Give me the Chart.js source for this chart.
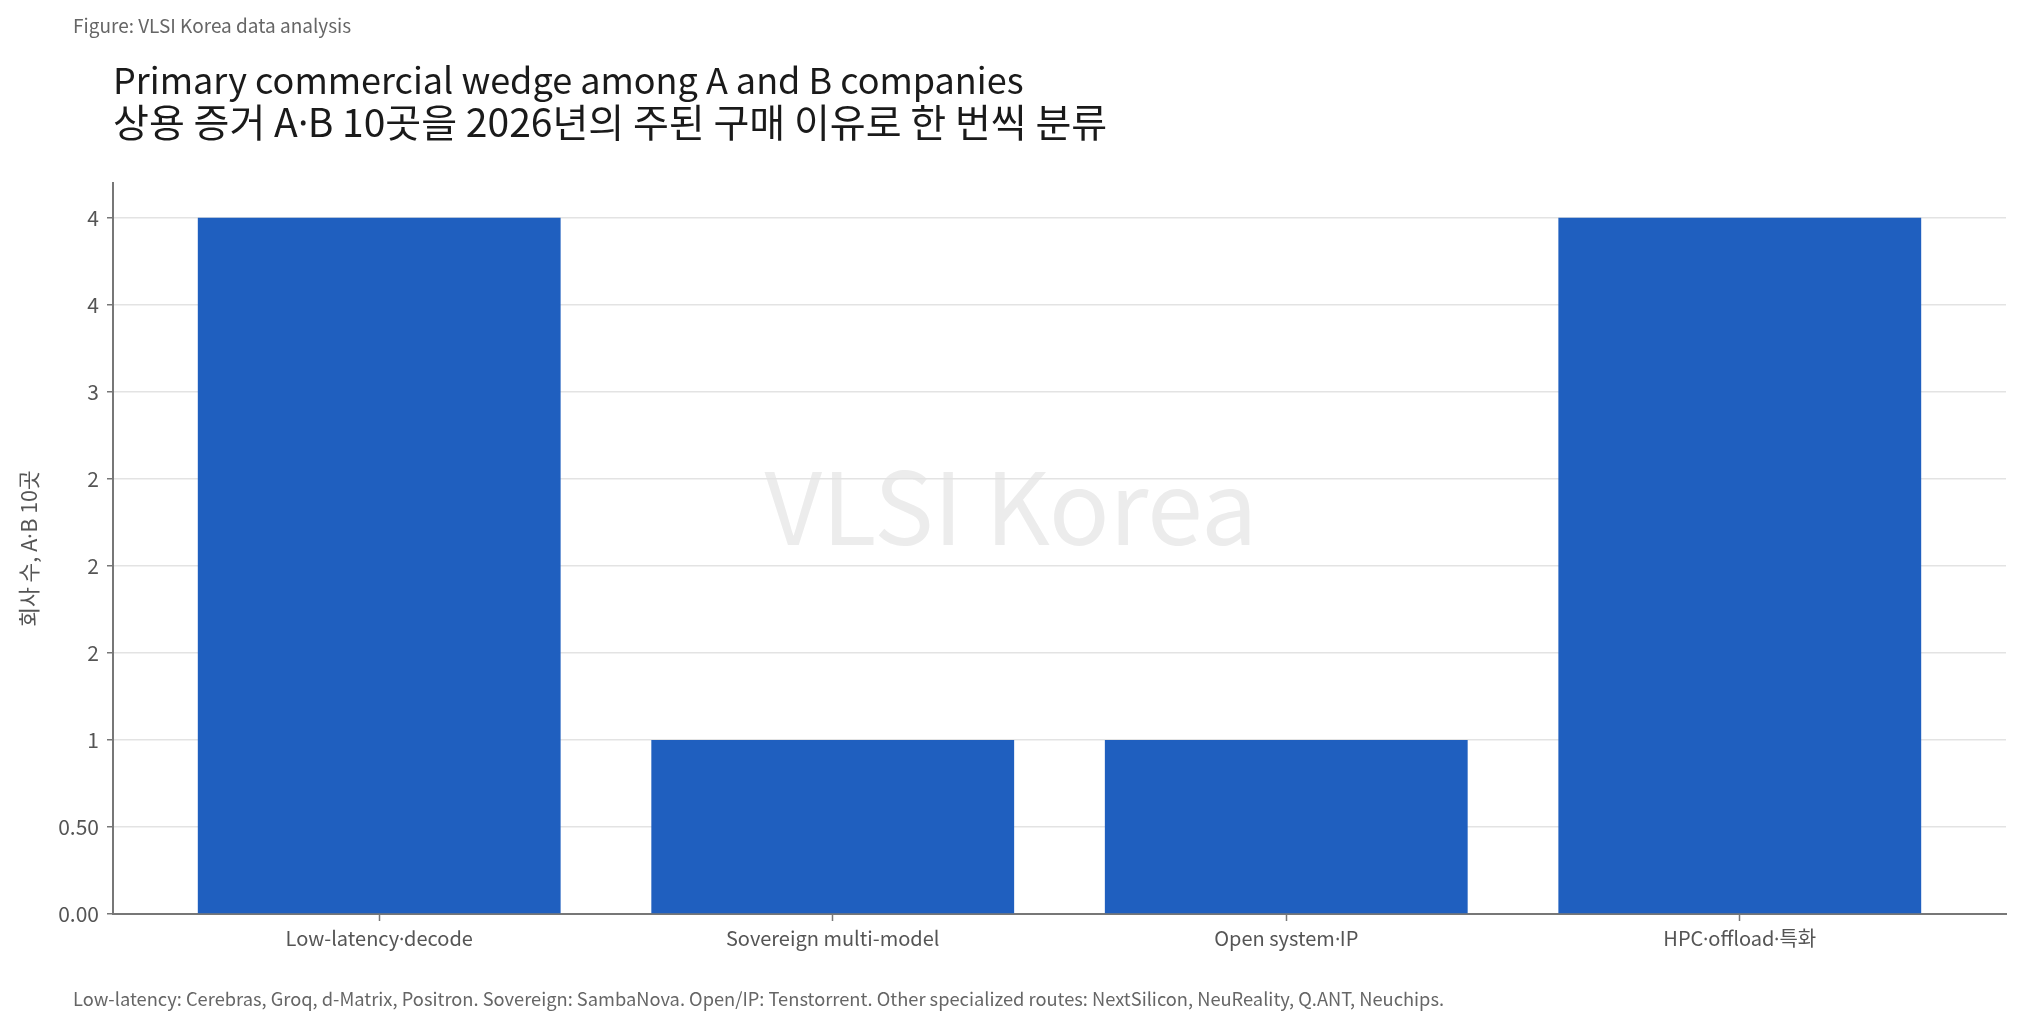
<!DOCTYPE html>
<html>
<head>
<meta charset="utf-8">
<script src="https://cdn.jsdelivr.net/npm/chart.js@4.4.1/dist/chart.umd.min.js"></script>
<style>
  @font-face { font-family: 'KDot'; src: local('Noto Sans'), local('NotoSans-Regular'), local('DejaVu Sans'); unicode-range: U+00B7; }
  html, body { margin: 0; padding: 0; background: #fff; }
  body { width: 2022px; height: 1025px; position: relative; overflow: hidden; font-family: 'KDot', 'Noto Sans CJK KR', 'Noto Sans', sans-serif; }
  #wrap { position: absolute; left: 0; top: 0; width: 2022px; height: 1025px; }
  .fig { position: absolute; left: 73px; top: 14px; font-size: 19px; line-height: 22px; color: #666; }
  .title { position: absolute; left: 113px; top: 57px; font-size: 36px; line-height: 42px; color: #1a1a1a; white-space: nowrap; }
  .title .ko { font-size: 39px; }
  .note { position: absolute; left: 73px; top: 987px; font-size: 18.3px; line-height: 22px; color: #666; white-space: nowrap; }
</style>
</head>
<body>
<div id="wrap"><canvas id="myChart" width="2022" height="1025"></canvas></div>
<div class="fig">Figure: VLSI Korea data analysis</div>
<div class="title">Primary commercial wedge among A and B companies<br><span class="ko">상용 증거 A·B 10곳을 2026년의 주된 구매 이유로 한 번씩 분류</span></div>
<div class="note">Low-latency: Cerebras, Groq, d-Matrix, Positron. Sovereign: SambaNova. Open/IP: Tenstorrent. Other specialized routes: NextSilicon, NeuReality, Q.ANT, Neuchips.</div>
<script>
const categories = ['Low-latency·decode', 'Sovereign multi-model', 'Open system·IP', 'HPC·offload·특화'];
const companyCounts = [4, 1, 1, 4];
const yTickValues = [0, 0.5, 1, 1.5, 2, 2.5, 3, 3.5, 4];
const yTickLabels = ['0.00', '0.50', '1', '2', '2', '2', '3', '4', '4'];
const yTitle = '회사 수, A·B 10곳';
const watermark = 'VLSI Korea';

const FONT = "KDot, 'Noto Sans CJK KR', 'Noto Sans', sans-serif";
const canvas = document.getElementById('myChart');

const extras = {
    id: 'extras',
    beforeDraw(chart) {
        const ctx = chart.ctx;
        ctx.save();
        ctx.font = '100px ' + FONT;
        ctx.fillStyle = '#ececec';
        ctx.textAlign = 'center';
        ctx.textBaseline = 'middle';
        ctx.fillText(watermark, chart.width / 2, chart.height / 2 - 6);
        ctx.restore();
    },
    afterDraw(chart) {
        const ctx = chart.ctx;
        const area = chart.chartArea;
        ctx.save();
        ctx.translate(29, (area.top + area.bottom) / 2);
        ctx.rotate(-Math.PI / 2);
        ctx.font = '21.5px ' + FONT;
        ctx.fillStyle = '#555';
        ctx.textAlign = 'center';
        ctx.textBaseline = 'middle';
        ctx.fillText(yTitle, 0, 0);
        ctx.restore();
    }
};

const makeChart = function() {
    new Chart(canvas, {
        type: 'bar',
        data: {
            datasets: [{
                data: companyCounts.map((v, i) => ({ x: i, y: v })),
                backgroundColor: '#1f5fbf',
                borderWidth: 0,
                barPercentage: 1,
                categoryPercentage: 0.8,
            }],
        },
        options: {
            responsive: false,
            animation: false,
            events: [],
            layout: { padding: { top: 183, right: 16, left: 0, bottom: 0 } },
            plugins: { legend: { display: false }, tooltip: { enabled: false } },
            scales: {
                x: {
                    type: 'linear',
                    min: -0.587,
                    max: 3.587,
                    offset: false,
                    z: 1,
                    afterFit: s => { s.height = 111; },
                    afterBuildTicks: s => { s.ticks = categories.map((c, i) => ({ value: i })); },
                    grid: { offset: false, drawOnChartArea: false, drawTicks: true, tickLength: 7, tickColor: '#777', tickWidth: 1.5 },
                    border: { color: '#777', width: 2 },
                    ticks: {
                        padding: 5,
                        color: '#555',
                        font: { family: FONT, size: 20 },
                        callback: v => categories[v],
                    },
                },
                y: {
                    min: 0,
                    max: 4.2,
                    z: 1,
                    afterFit: s => { s.width = 113; },
                    afterBuildTicks: s => { s.ticks = yTickValues.map(v => ({ value: v })); },
                    grid: { color: '#e3e3e3', lineWidth: 1.5, tickLength: 6, tickColor: '#777', tickWidth: 1.5 },
                    border: { color: '#777', width: 2 },
                    ticks: {
                        padding: 8,
                        color: '#555',
                        font: { family: FONT, size: 21 },
                        callback: (v, i) => yTickLabels[i],
                    },
                },
            },
        },
        plugins: [extras],
    });
}

document.fonts.load("20px KDot", "·").then(makeChart, makeChart);
</script>
</body>
</html>
